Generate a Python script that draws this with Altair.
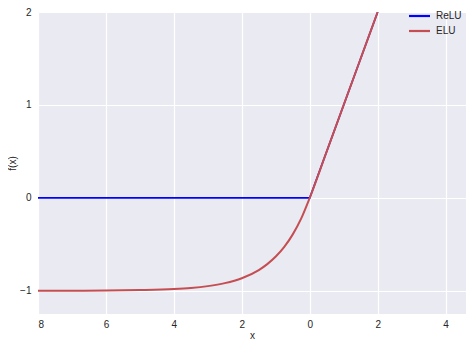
import altair as alt
import pandas as pd

# ELU curve, values
elu_x = [-8, -7, -6, -5, -4, -3.5, -3, -2.5, -2, -1.5, -1.25, -1, -0.75, -0.5, -0.25, 0, 0.5, 1, 1.5, 2]
elu_y = [-1.0, -0.999, -0.998, -0.993, -0.982, -0.97, -0.95, -0.918, -0.865, -0.777, -0.713, -0.632, -0.528, -0.393, -0.221, 0, 0.5, 1, 1.5, 2]

# ReLU line
relu_x = [-8, 0, 2]
relu_y = [0, 0, 2]

series_names = ["ReLU", "ELU"]
series_colors = ["#0000ff", "#c44e52"]
x_ticks = [-8, -6, -4, -2, 0, 2, 4]
y_ticks = [-1, 0, 1, 2]

relu_df = pd.DataFrame({"x": relu_x, "y": relu_y, "s": "ReLU"})
elu_df = pd.DataFrame({"x": elu_x, "y": elu_y, "s": "ELU"})
legend_df = pd.DataFrame({"s": series_names})

font = "Liberation Sans"

xenc = alt.X("x:Q", title="x",
             scale=alt.Scale(domain=[-8, 4.6], nice=False, zero=False),
             axis=alt.Axis(values=x_ticks, labelExpr="abs(datum.value)"))
yenc = alt.Y("y:Q", title="f(x)",
             scale=alt.Scale(domain=[-1.25, 2], nice=False, zero=False),
             axis=alt.Axis(values=y_ticks))
cenc = alt.Color("s:N", scale=alt.Scale(domain=series_names, range=series_colors), legend=None)

relu = alt.Chart(relu_df).mark_line(clip=True, strokeWidth=1.6).encode(x=xenc, y=yenc, color=cenc)
elu = alt.Chart(elu_df).mark_line(clip=True, strokeWidth=2.0, interpolate="monotone").encode(x=xenc, y=yenc, color=cenc)

# manual legend (no frame), rows placed in pixel space
legend_layers = []
for i, name in enumerate(series_names):
    base = alt.Chart(legend_df).transform_filter(alt.datum.s == name)
    legend_layers.append(base.mark_rule(strokeWidth=2.2).encode(
        x=alt.value(371), x2=alt.value(392), y=alt.value(4 + 15 * i), color=cenc))
    legend_layers.append(base.mark_text(
        align="left", baseline="middle", fontSize=10, font=font, color="#262626"
    ).encode(x=alt.value(398), y=alt.value(4 + 15 * i), text="s:N"))

chart = alt.layer(relu, elu, *legend_layers).properties(
    width=428, height=302,
    autosize=alt.AutoSizeParams(type="none"),
    padding={"left": 30, "top": 4, "right": 0, "bottom": 26},
).configure_view(
    fill="#eaeaf2", stroke=None
).configure_axis(
    grid=True, gridColor="white", gridWidth=1.2, domain=False, ticks=False,
    labelFont=font, labelFontSize=10, labelColor="#262626",
    titleFont=font, titleFontSize=10, titleColor="#262626", titleFontWeight="normal",
).configure_axisX(
    labelPadding=5, titlePadding=1
).configure_axisY(
    labelPadding=7, titlePadding=2
)

chart.save("out.html", embed_options={"renderer": "svg", "actions": False})
